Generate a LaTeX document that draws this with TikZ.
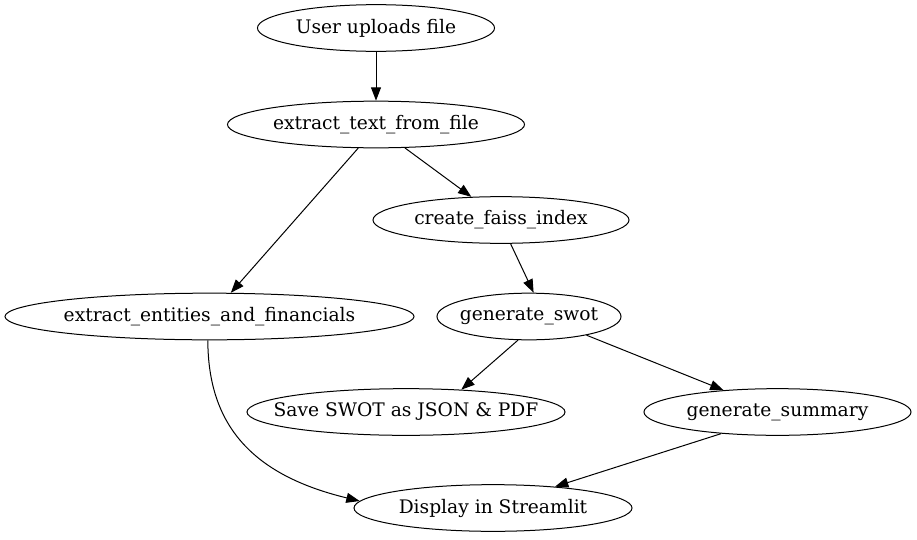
\documentclass[tikz,border=0pt]{standalone}
\usepackage{fontspec}
\setmainfont{DejaVu Serif}
\usetikzlibrary{shapes.geometric,arrows.meta}
\newcommand{\zw}[1]{\makebox[0pt]{#1}}
\begin{document}
\begin{tikzpicture}[x=0.75pt,y=-0.75pt,
  nd/.style={draw,ellipse,line width=0.75pt,inner sep=0pt,minimum height=35pt,font=\fontsize{14pt}{16pt}\selectfont},
  ar/.style={line width=0.75pt,-{Triangle[length=10pt,width=7.5pt]}}]
\useasboundingbox (0,0) rectangle (917,539);
\node[nd,minimum width=177.8pt] (n1) at (376,28) {\zw{User uploads file}};
\node[nd,minimum width=222.8pt] (n2) at (376,124.5) {\zw{extract\_text\_from\_file}};
\node[nd,minimum width=192pt] (n3) at (501,220) {\zw{create\_faiss\_index}};
\node[nd,minimum width=306.8pt] (n4) at (209.5,316.5) {\zw{extract\_entities\_and\_financials}};
\node[nd,minimum width=138pt] (n5) at (529,316.5) {\zw{generate\_swot}};
\node[nd,minimum width=238.5pt] (n6) at (406,412) {\zw{Save SWOT as JSON \& PDF}};
\node[nd,minimum width=200.3pt] (n7) at (777.5,412) {\zw{generate\_summary}};
\node[nd,minimum width=208.5pt] (n8) at (493,508) {\zw{Display in Streamlit}};
\draw[ar] (n1.south) -- (n2.north);
\draw[ar] (n2.-127.3) -- (n4.48.5);
\draw[ar] (n2.-39.2) -- (n3.142.2);
\draw[ar] (n3.-68.8) -- (n5.79.8);
\draw[ar] (n5.-115.5) -- (n6.22.8);
\draw[ar] (n5.-18.5) -- (n7.158.5);
\draw[ar] (n7.-159.8) -- (n8.19);
\draw[ar] (n4.-94.2) .. controls (208,425) and (252,475) .. (n8.177.2);
\end{tikzpicture}
\end{document}
